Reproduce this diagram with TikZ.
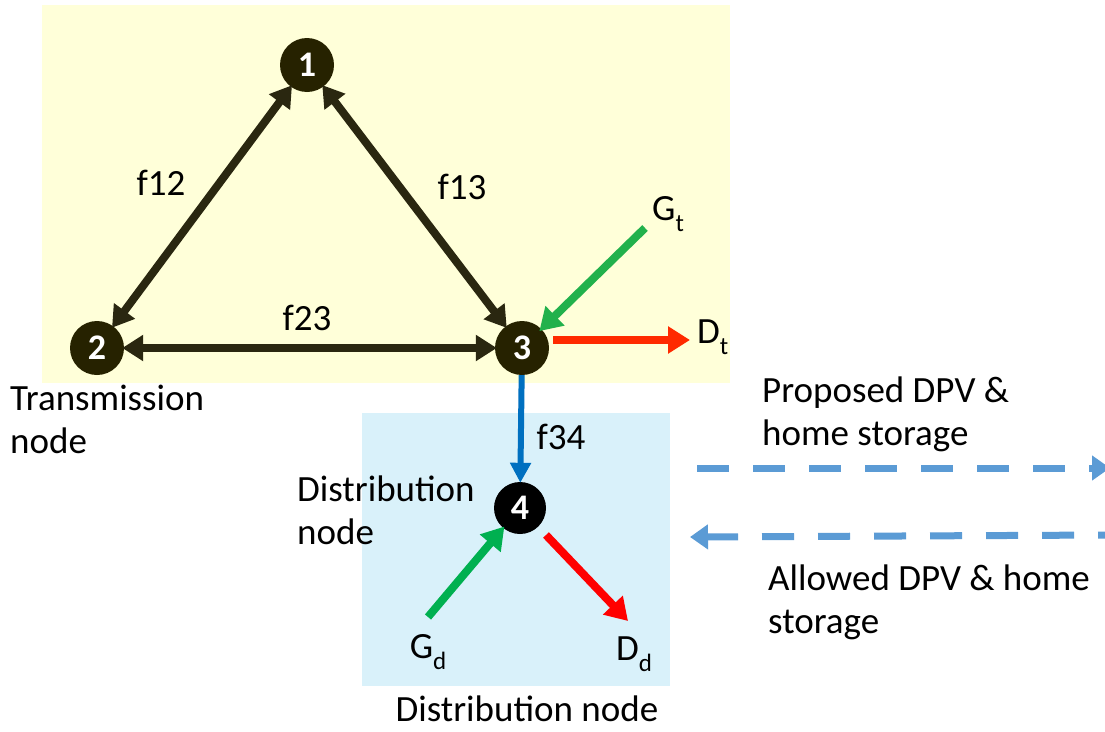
\documentclass[tikz,border=0pt]{standalone}
\usepackage{fontspec}
\setmainfont{Carlito}
\usetikzlibrary{arrows.meta}
\definecolor{nodedark}{HTML}{262200}
\definecolor{edgedark}{HTML}{2A2710}
\definecolor{yelbg}{HTML}{FFFFD9}
\definecolor{bluebg}{HTML}{D9F1FA}
\definecolor{gengreen}{HTML}{22B14C}
\definecolor{gengreend}{HTML}{00B050}
\definecolor{dred}{HTML}{FF2A00}
\definecolor{dredd}{HTML}{FF0000}
\definecolor{flowblue}{HTML}{0070C0}
\definecolor{dashblue}{HTML}{5B9BD5}
\tikzset{
  bus/.style={circle,fill=nodedark,minimum size=54pt,inner sep=0pt,text=white,font=\fontsize{36}{38}\selectfont\bfseries},
  lbl/.style={font=\fontsize{37}{43}\selectfont,text=black,inner sep=0pt},
  lbll/.style={lbl,align=left},
  biarrow/.style={line width=8pt,draw=edgedark,{Triangle[length=21pt,width=25pt]}-{Triangle[length=21pt,width=25pt]}},
  onearrow/.style={line width=8pt,-{Triangle[length=22pt,width=26pt]}},
  dasharrow/.style={line width=7pt,draw=dashblue,dash pattern=on 32pt off 24pt,-{Triangle[length=18pt,width=24pt]}},
}
\newcommand{\subsc}[1]{\raisebox{-0.3em}{\fontsize{25}{25}\selectfont #1}}
\begin{document}
\begin{tikzpicture}[x=1pt,y=-1pt]
\useasboundingbox (0,0) rectangle (1105,731);
\fill[white] (0,0) rectangle (1105,731);
\fill[yelbg] (42,5) rectangle (730,383);
\fill[bluebg] (362,413) rectangle (670,686);

\node[bus] (n1) at (307,65) {1};
\node[bus] (n2) at (97,348) {2};
\node[bus] (n3) at (522,348) {3};
\node[bus,fill=black,minimum size=52pt] (n4) at (520,508) {4};

\draw[biarrow,shorten <=-2pt,shorten >=-2pt] (n2) -- (n1);
\draw[biarrow,shorten <=-2pt,shorten >=-2pt] (n1) -- (n3);
\draw[biarrow,shorten <=-2pt,shorten >=-2pt] (n2) -- (n3);

\node[lbl] (f12) at (161,183) {f12};
\node[lbl] (f13) at (462,187) {f13};
\node[lbl] (f23) at (307,318) {f23};

\coordinate (gtstart) at (645,228);
\node[lbl,anchor=west] (gt) at (652,214) {G\subsc{t}};
\draw[onearrow,draw=gengreen,shorten >=-3pt] (gtstart) -- (n3);

\coordinate (dtstart) at (553,340);
\coordinate (dtend) at (690,340);
\node[lbl,anchor=west] (dt) at (697,337) {D\subsc{t}};
\draw[onearrow,draw=dred] (dtstart) -- (dtend);

\draw[line width=6pt,draw=flowblue,-{Triangle[length=20pt,width=20pt]},shorten >=-1pt] (n3) -- (n4);
\node[lbl] (f34) at (561,437) {f34};

\node[lbll,anchor=west] (tn) at (10,419) {Transmission\\node};
\node[lbll,anchor=west] (dn) at (297,510) {Distribution\\node};
\node[lbl,anchor=base] (dnb) at (527,721) {Distribution node};

\coordinate (gdstart) at (428,617);
\node[lbl] (gd) at (428,652) {G\subsc{d}};
\draw[onearrow,draw=gengreend,shorten >=-2pt] (gdstart) -- (n4);

\coordinate (ddstart) at (546,535);
\coordinate (ddend) at (628,621);
\node[lbl] (dd) at (634,654) {D\subsc{d}};
\draw[onearrow,draw=dredd] (ddstart) -- (ddend);

\coordinate (p1) at (697,468);
\coordinate (p2) at (1110,468);
\draw[dasharrow] (p1) -- (p2);
\coordinate (a1) at (1110,535);
\coordinate (a2) at (690,537);
\draw[dasharrow,dash phase=20pt] (a1) -- (a2);

\node[lbll,anchor=west] (prop) at (762,414) {Proposed DPV \&\\home storage};
\node[lbll,anchor=west] (allow) at (768,602) {Allowed DPV \& home\\storage};
\end{tikzpicture}
\end{document}
